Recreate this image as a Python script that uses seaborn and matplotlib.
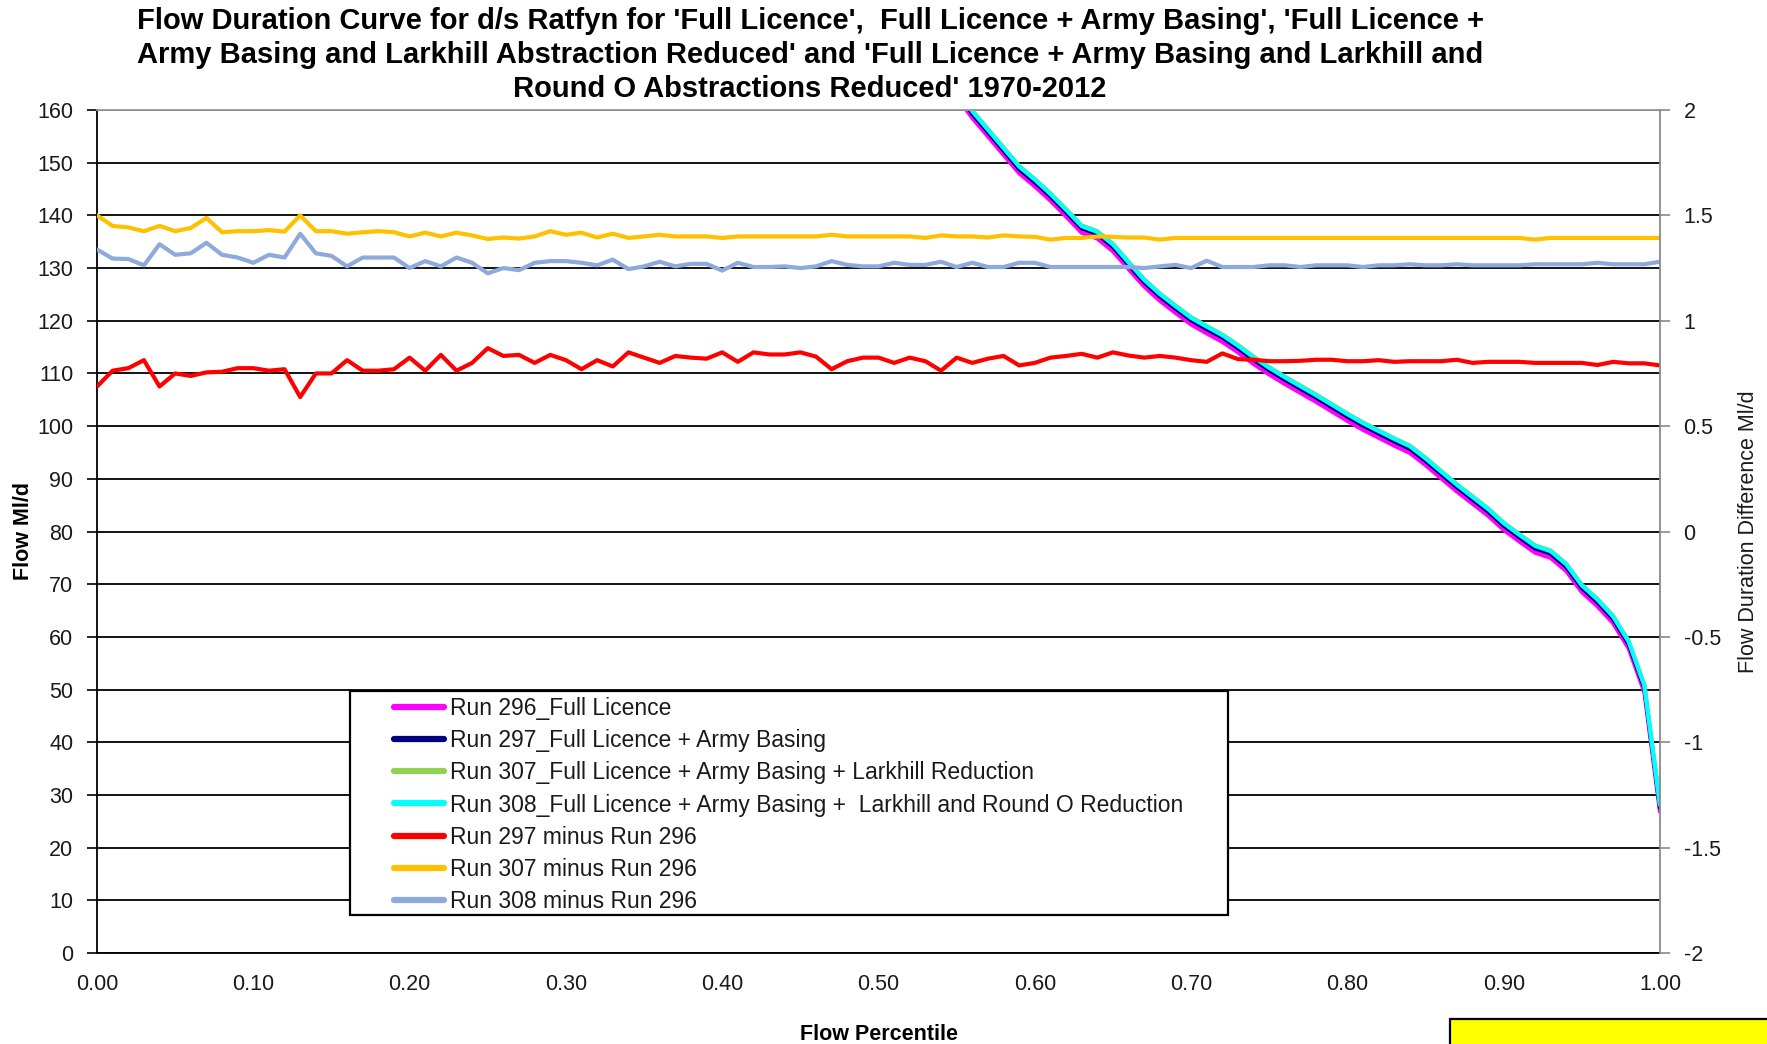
import matplotlib
matplotlib.use("Agg")
import matplotlib.pyplot as plt
import seaborn as sns
import pandas as pd
from matplotlib.lines import Line2D
from matplotlib.patches import Rectangle
from matplotlib.ticker import FuncFormatter

# ---- data -------------------------------------------------------------
percentile = [round(i / 100, 2) for i in range(101)]

# Run 296 (Full Licence) flow, Ml/d, at each flow percentile
run296 = [1050, 800, 685, 615, 565, 527, 497, 472, 451, 433,
          417, 403, 390, 378, 367, 357, 348, 339, 331, 323,
          316, 309, 302.5, 296, 290, 284, 278.5, 273, 268, 263,
          258, 253, 248.5, 244, 239.5, 235, 231, 227, 223, 219,
          215, 211.5, 208, 204.5, 201, 197.5, 194, 190.5, 187, 183.5,
          180, 176.5, 173, 169.5, 166, 162.5, 158.5, 155, 151.5, 148,
          145.5, 142.8, 139.8, 136.7, 135.6, 133.2, 129.8, 126.5, 123.8, 121.5,
          119.3, 117.6, 116, 114, 111.8, 109.8, 108, 106.3, 104.6, 102.8,
          101, 99.3, 97.8, 96.3, 94.9, 92.6, 90.1, 87.6, 85.3, 83,
          80.3, 78.1, 76, 75, 72.5, 68.5, 65.8, 62.6, 57.8, 49.5,
          26.8]

# Differences from Run 296, Ml/d
diff297 = [0.688, 0.763, 0.775, 0.813, 0.688, 0.750, 0.738, 0.755, 0.758, 0.775,
           0.775, 0.763, 0.770, 0.638, 0.750, 0.750, 0.813, 0.763, 0.763, 0.770,
           0.825, 0.763, 0.838, 0.763, 0.800, 0.870, 0.833, 0.838, 0.800, 0.838,
           0.813, 0.770, 0.813, 0.783, 0.850, 0.825, 0.800, 0.833, 0.825, 0.820,
           0.850, 0.805, 0.850, 0.840, 0.840, 0.850, 0.830, 0.770, 0.808, 0.825,
           0.825, 0.800, 0.825, 0.808, 0.763, 0.825, 0.800, 0.820, 0.833, 0.788,
           0.800, 0.825, 0.833, 0.843, 0.825, 0.850, 0.835, 0.825, 0.833, 0.825,
           0.813, 0.805, 0.845, 0.818, 0.815, 0.808, 0.808, 0.810, 0.815, 0.815,
           0.808, 0.808, 0.813, 0.805, 0.808, 0.808, 0.808, 0.815, 0.800, 0.805,
           0.805, 0.805, 0.800, 0.800, 0.800, 0.800, 0.790, 0.805, 0.798, 0.798,
           0.788]

diff307 = [1.500, 1.450, 1.443, 1.425, 1.450, 1.425, 1.440, 1.488, 1.420, 1.425,
           1.425, 1.430, 1.423, 1.500, 1.425, 1.425, 1.413, 1.420, 1.425, 1.420,
           1.400, 1.418, 1.400, 1.418, 1.405, 1.388, 1.395, 1.390, 1.400, 1.425,
           1.408, 1.418, 1.395, 1.413, 1.393, 1.400, 1.408, 1.400, 1.400, 1.400,
           1.393, 1.400, 1.400, 1.400, 1.400, 1.400, 1.400, 1.408, 1.400, 1.400,
           1.400, 1.400, 1.400, 1.393, 1.405, 1.400, 1.400, 1.395, 1.405, 1.400,
           1.398, 1.385, 1.393, 1.393, 1.400, 1.398, 1.395, 1.395, 1.385, 1.393,
           1.393, 1.393, 1.393, 1.393, 1.393, 1.393, 1.393, 1.393, 1.393, 1.393,
           1.393, 1.393, 1.393, 1.393, 1.393, 1.393, 1.393, 1.393, 1.393, 1.393,
           1.393, 1.393, 1.385, 1.393, 1.393, 1.393, 1.393, 1.393, 1.393, 1.393,
           1.393]

diff308 = [1.338, 1.295, 1.293, 1.263, 1.363, 1.313, 1.320, 1.370, 1.313, 1.300,
           1.275, 1.313, 1.300, 1.413, 1.320, 1.308, 1.258, 1.300, 1.300, 1.300,
           1.250, 1.283, 1.258, 1.300, 1.275, 1.225, 1.250, 1.240, 1.275, 1.283,
           1.283, 1.275, 1.263, 1.290, 1.245, 1.258, 1.280, 1.258, 1.270, 1.270,
           1.238, 1.275, 1.255, 1.255, 1.258, 1.250, 1.258, 1.283, 1.265, 1.258,
           1.258, 1.275, 1.265, 1.265, 1.280, 1.255, 1.275, 1.255, 1.255, 1.275,
           1.275, 1.255, 1.255, 1.255, 1.255, 1.255, 1.255, 1.250, 1.258, 1.265,
           1.250, 1.285, 1.255, 1.255, 1.255, 1.263, 1.263, 1.255, 1.263, 1.263,
           1.263, 1.255, 1.263, 1.263, 1.268, 1.263, 1.263, 1.268, 1.263, 1.263,
           1.263, 1.263, 1.268, 1.268, 1.268, 1.268, 1.275, 1.268, 1.268, 1.268,
           1.280]

labels = ["Run 296_Full Licence",
          "Run 297_Full Licence + Army Basing",
          "Run 307_Full Licence + Army Basing + Larkhill Reduction",
          "Run 308_Full Licence + Army Basing +  Larkhill and Round O Reduction",
          "Run 297 minus Run 296",
          "Run 307 minus Run 296",
          "Run 308 minus Run 296"]
colors = ["#FF00FF", "#000080", "#92D050", "#00FFFF",
          "#FF0000", "#FFC000", "#8EA9DB"]

title = ("Flow Duration Curve for d/s Ratfyn for 'Full Licence',  Full Licence + Army Basing', 'Full Licence +\n"
         "Army Basing and Larkhill Abstraction Reduced' and 'Full Licence + Army Basing and Larkhill and\n"
         "Round O Abstractions Reduced' 1970-2012")

# the other runs are Run 296 plus their stated differences
df = pd.DataFrame({"percentile": percentile, "run296": run296,
                   "diff297": diff297, "diff307": diff307, "diff308": diff308})
df["run297"] = df["run296"] + df["diff297"]
df["run307"] = df["run296"] + df["diff307"]
df["run308"] = df["run296"] + df["diff308"]

# ---- style ------------------------------------------------------------
sns.set_style("white")
plt.rcParams["font.family"] = ["Liberation Sans", "DejaVu Sans"]
plt.rcParams["axes.unicode_minus"] = False

W, H = 1767, 1044
fig = plt.figure(figsize=(W / 100, H / 100), dpi=100)
L, R, T, B = 97, 1660, 110, 953
ax = fig.add_axes([L / W, 1 - B / H, (R - L) / W, (B - T) / H])

lw = 3.0
line_kw = dict(linewidth=lw, solid_joinstyle="round", solid_capstyle="round",
               legend=False, sort=False, estimator=None)

for col, c in zip(["run296", "run297", "run307", "run308"], colors[:4]):
    sns.lineplot(data=df, x="percentile", y=col, ax=ax, color=c, **line_kw)

ax.set_xlim(0, 1)
ax.set_ylim(0, 160)
ax.set_xticks([i / 10 for i in range(11)])
ax.xaxis.set_major_formatter(FuncFormatter(lambda v, p: f"{v:.2f}"))
ax.set_yticks(range(0, 161, 10))
ax.yaxis.grid(True, color="black", linewidth=1.3)
ax.xaxis.grid(False)
ax.set_axisbelow(True)
for s in ["left", "bottom"]:
    ax.spines[s].set_color("black")
    ax.spines[s].set_linewidth(1.3)
ax.spines["top"].set_color("#9a9a9a")
ax.spines["top"].set_linewidth(1.3)
ax.spines["right"].set_visible(False)
ax.tick_params(axis="both", direction="out", length=7, width=1.2, color="black",
               labelsize=15.5, labelcolor="#1a1a1a")
ax.tick_params(axis="y", pad=10)
ax.tick_params(axis="x", pad=8)
ax.set_xlabel("Flow Percentile", fontsize=15.5, fontweight="bold", labelpad=21,
              color="black")
ax.set_ylabel("Flow Ml/d", fontsize=15.5, fontweight="bold", labelpad=2,
              color="black")

# ---- difference series on the secondary axis --------------------------
ax2 = ax.twinx()
for col, c in zip(["diff297", "diff307", "diff308"], colors[4:]):
    sns.lineplot(data=df, x="percentile", y=col, ax=ax2, color=c, **line_kw)
ax2.set_ylim(-2, 2)
ax2.set_yticks([-2 + 0.5 * i for i in range(9)])
ax2.yaxis.set_major_formatter(FuncFormatter(lambda v, p: f"{v:g}"))
for s in ["left", "top", "bottom"]:
    ax2.spines[s].set_visible(False)
ax2.spines["right"].set_color("#8a8a8a")
ax2.spines["right"].set_linewidth(1.3)
ax2.tick_params(axis="y", direction="out", length=7, width=1.2, color="#8a8a8a",
                labelsize=15.5, labelcolor="#1a1a1a", pad=10)
ax2.set_ylabel("Flow Duration Difference Ml/d", fontsize=15.5, labelpad=12,
               color="#1a1a1a")

# ---- legend -----------------------------------------------------------
box_x0, box_x1, box_y0, box_y1 = 350, 1228, 691, 915
ax2.add_patch(Rectangle(((box_x0 - L) / (R - L), (B - box_y1) / (B - T)),
                        (box_x1 - box_x0) / (R - L), (box_y1 - box_y0) / (B - T),
                        transform=ax2.transAxes, facecolor="white",
                        edgecolor="black", linewidth=1.6, zorder=4))
handles = [Line2D([0], [0], color=c, linewidth=4.5) for c in colors]
leg = ax2.legend(handles, labels, loc="upper left",
                 bbox_to_anchor=((394 - L) / (R - L), (B - 697) / (B - T)),
                 frameon=False, borderpad=0, borderaxespad=0, fontsize=16.5,
                 handlelength=2.2, handletextpad=0.25, labelspacing=0.40)
for t in leg.get_texts():
    t.set_color("#1a1a1a")

# ---- title and note box -----------------------------------------------
fig.text(810 / W, 1 - 7 / H, title, ha="center", va="top", fontsize=21,
         fontweight="bold", linespacing=1.27, color="black")
fig.patches.append(Rectangle((1450 / W, -0.02), 0.3, 0.02 + 25 / H,
                             transform=fig.transFigure, facecolor="#FFFF00",
                             edgecolor="black", linewidth=1.6))

fig.savefig("out.png", dpi=100)
